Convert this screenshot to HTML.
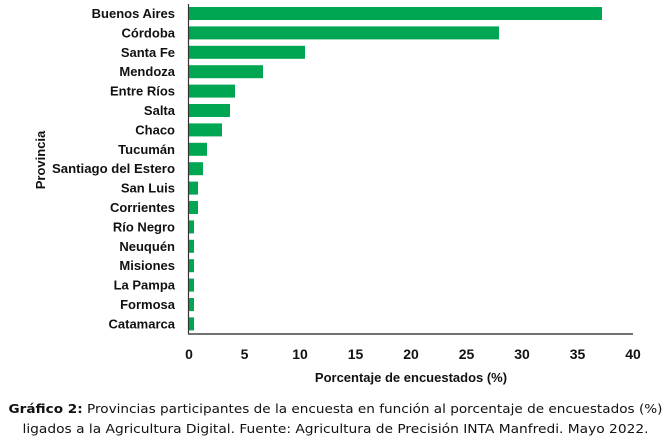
<!DOCTYPE html>
<html><head><meta charset="utf-8"><style>html,body{margin:0;padding:0;background:#fff}</style></head>
<body>
<svg width="672" height="440" xmlns="http://www.w3.org/2000/svg" font-family="Liberation Sans, sans-serif">
<rect width="672" height="440" fill="#fff"/>
<g fill="#00a651">
<rect x="189" y="7" width="413" height="13"/>
<rect x="189" y="26.4" width="310" height="13"/>
<rect x="189" y="45.8" width="116" height="13"/>
<rect x="189" y="65.2" width="74" height="13"/>
<rect x="189" y="84.6" width="46" height="13"/>
<rect x="189" y="104" width="41" height="13"/>
<rect x="189" y="123.4" width="33" height="13"/>
<rect x="189" y="142.8" width="18" height="13"/>
<rect x="189" y="162.2" width="14" height="13"/>
<rect x="189" y="181.6" width="9" height="13"/>
<rect x="189" y="201" width="9" height="13"/>
<rect x="189" y="220.4" width="5" height="13"/>
<rect x="189" y="239.8" width="5" height="13"/>
<rect x="189" y="259.2" width="5" height="13"/>
<rect x="189" y="278.6" width="5" height="13"/>
<rect x="189" y="298" width="5" height="13"/>
<rect x="189" y="317.4" width="5" height="13"/>
</g>
<line x1="188.5" y1="4" x2="188.5" y2="334" stroke="#333" stroke-width="1.2"/>
<line x1="188" y1="334" x2="633" y2="334" stroke="#444" stroke-width="1.5"/>
<g font-size="13" font-weight="bold" fill="#111" text-anchor="end">
<text x="175" y="18">Buenos Aires</text>
<text x="175" y="37.4">Córdoba</text>
<text x="175" y="56.8">Santa Fe</text>
<text x="175" y="76.2">Mendoza</text>
<text x="175" y="95.6">Entre Ríos</text>
<text x="175" y="115">Salta</text>
<text x="175" y="134.4">Chaco</text>
<text x="175" y="153.8">Tucumán</text>
<text x="175" y="173.2" textLength="123" lengthAdjust="spacingAndGlyphs">Santiago del Estero</text>
<text x="175" y="192.6">San Luis</text>
<text x="175" y="212">Corrientes</text>
<text x="175" y="231.4">Río Negro</text>
<text x="175" y="250.8">Neuquén</text>
<text x="175" y="270.2">Misiones</text>
<text x="175" y="289.6">La Pampa</text>
<text x="175" y="309">Formosa</text>
<text x="175" y="328.4">Catamarca</text>
</g>
<g font-size="14" font-weight="bold" fill="#111" text-anchor="middle">
<text x="189" y="359">0</text>
<text x="244.5" y="359">5</text>
<text x="300" y="359">10</text>
<text x="355.5" y="359">15</text>
<text x="411" y="359">20</text>
<text x="466.5" y="359">25</text>
<text x="522" y="359">30</text>
<text x="577.5" y="359">35</text>
<text x="633" y="359">40</text>
</g>
<g font-size="13" font-weight="bold" fill="#111" text-anchor="middle">
<text x="411" y="382">Porcentaje de encuestados (%)</text>
<text transform="translate(45,160) rotate(-90)">Provincia</text>
</g>
<g font-family="DejaVu Sans, sans-serif" font-size="12" fill="#111" text-anchor="middle">
<text x="335.5" y="413" textLength="654" lengthAdjust="spacingAndGlyphs"><tspan font-weight="bold">Gráfico 2:</tspan> Provincias participantes de la encuesta en función al porcentaje de encuestados (%)</text>
<text x="335.5" y="433" textLength="626" lengthAdjust="spacingAndGlyphs">ligados a la Agricultura Digital. Fuente: Agricultura de Precisión INTA Manfredi. Mayo 2022.</text>
</g>
</svg>
</body></html>
